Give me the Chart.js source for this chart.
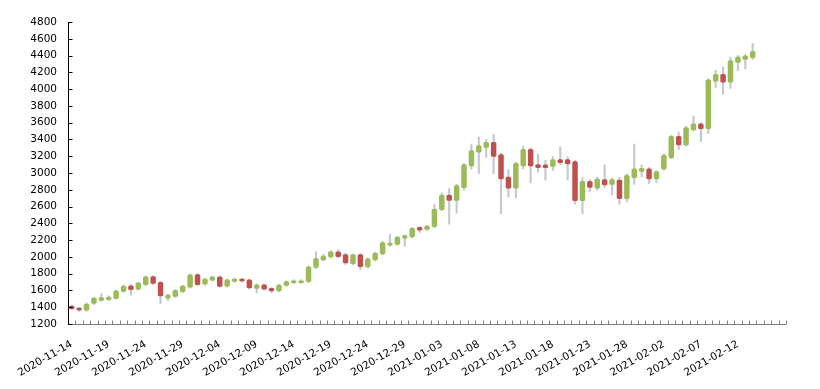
<!DOCTYPE html>
<html>
<head>
<meta charset="utf-8">
<script src="https://cdn.jsdelivr.net/npm/chart.js@4.4.1/dist/chart.umd.min.js"></script>
<style>
  html, body { margin: 0; padding: 0; background: #fff; }
  #wrap { width: 820px; height: 389px; }
</style>
</head>
<body>
<div id="wrap"><canvas id="chart" width="820" height="389"></canvas></div>
<script>
// giorni dal 2020-11-14, l'asse continua qualche giorno dopo l'ultima candela
const dates = [];
for (let d = new Date(Date.UTC(2020, 10, 14)); d <= new Date(Date.UTC(2021, 1, 18)); d.setUTCDate(d.getUTCDate() + 1)) {
  dates.push(d.toISOString().slice(0, 10));
}

const open = [
  1418, 1395, 1360, 1440, 1478, 1485, 1500, 1585, 1660, 1610,
  1665, 1768, 1700, 1505, 1525, 1580, 1635, 1792, 1670, 1720,
  1765, 1648, 1705, 1740, 1730, 1620, 1670, 1630, 1590, 1655,
  1690, 1690, 1700, 1870, 1960, 1995, 2065, 2030, 1915, 2030,
  1880, 1960, 2030, 2135, 2145, 2218, 2235, 2355, 2325, 2355,
  2560, 2740, 2670, 2820, 3080, 3245, 3300, 3370, 3225, 2955,
  2815, 3080, 3285, 3105, 3100, 3075, 3165, 3165, 3140, 2665,
  2905, 2815, 2925, 2860, 2920, 2690, 2940, 3015, 3055, 2925,
  3045, 3180, 3440, 3330, 3510, 3590, 3525, 4090, 4180, 4080,
  4315, 4350, 4370
];
const close = [
  1378, 1360, 1440, 1512, 1518, 1525, 1598, 1655, 1605, 1695,
  1765, 1680, 1530, 1550, 1605, 1655, 1790, 1665, 1740, 1765,
  1645, 1730, 1740, 1710, 1625, 1670, 1612, 1590, 1668, 1710,
  1720, 1720, 1885, 1985, 2015, 2065, 2000, 1925, 2030, 1880,
  1980, 2050, 2175, 2170, 2240, 2258, 2345, 2315, 2370, 2575,
  2740, 2670, 2855, 3105, 3270, 3330, 3370, 3195, 2925, 2815,
  3120, 3285, 3080, 3060, 3060, 3165, 3120, 3105, 2665, 2905,
  2825, 2930, 2855, 2925, 2690, 2975, 3055, 3060, 2925, 3020,
  3215, 3440, 3330, 3545, 3590, 3525, 4115, 4180, 4080, 4345,
  4385, 4400, 4455
];
const high = [
  1425, 1400, 1450, 1520, 1560, 1535, 1605, 1665, 1670, 1700,
  1772, 1775, 1710, 1560, 1612, 1662, 1798, 1800, 1748, 1772,
  1772, 1735, 1748, 1745, 1735, 1678, 1678, 1635, 1675, 1715,
  1728, 1728, 1890, 2060, 2030, 2075, 2083, 2045, 2035, 2040,
  1990, 2058, 2182, 2270, 2245, 2265, 2352, 2360, 2378, 2625,
  2765, 2815, 2865, 3115, 3345, 3430, 3400, 3460, 3235, 3040,
  3130, 3320, 3300, 3225, 3150, 3195, 3310, 3195, 3150, 2945,
  2920, 2950, 3095, 2940, 2950, 2990, 3345, 3095, 3065, 3030,
  3230, 3450, 3490, 3555, 3680, 3600, 4125, 4225, 4265, 4380,
  4400, 4415, 4545
];
const low = [
  1370, 1352, 1350, 1432, 1470, 1478, 1492, 1578, 1545, 1602,
  1658, 1672, 1440, 1480, 1518, 1572, 1628, 1658, 1662, 1712,
  1640, 1640, 1698, 1700, 1618, 1570, 1605, 1575, 1582, 1648,
  1682, 1682, 1692, 1860, 1950, 1985, 1990, 1910, 1905, 1850,
  1865, 1952, 2022, 2125, 2138, 2125, 2228, 2290, 2318, 2345,
  2550, 2390, 2520, 2795, 3045, 2995, 3185, 2990, 2515, 2715,
  2700, 3050, 2880, 3010, 2915, 3030, 3100, 2915, 2630, 2515,
  2775, 2795, 2830, 2735, 2630, 2655, 2865, 2955, 2875, 2885,
  3030, 3170, 3280, 3320, 3500, 3375, 3470, 4020, 3940, 4010,
  4220, 4240, 4355
];

const green = "#9bbb59";
const red = "#c0504d";

// assi e tacche interne (stile Excel)
const axisLines = {
  id: "axisLines",
  afterDatasetsDraw(chart) {
    const { ctx, chartArea: a, scales: { x, y } } = chart;
    ctx.save();
    ctx.lineWidth = 1;

    const yb = Math.round(a.bottom) + 0.5;
    const step = x.getPixelForValue(1) - x.getPixelForValue(0);
    ctx.strokeStyle = "#808080";
    ctx.beginPath();
    ctx.moveTo(a.left, yb);
    ctx.lineTo(a.right, yb);
    for (let i = 0; i <= dates.length; i++) {
      const px = Math.round(x.getPixelForValue(i) - step / 2) + 0.5;
      ctx.moveTo(px, yb);
      ctx.lineTo(px, yb - 4);
    }
    ctx.stroke();

    const xl = Math.round(a.left) + 0.5;
    ctx.strokeStyle = "#000";
    ctx.beginPath();
    ctx.moveTo(xl, a.top);
    ctx.lineTo(xl, yb);
    y.ticks.forEach((t) => {
      const py = Math.round(y.getPixelForValue(t.value)) + 0.5;
      ctx.moveTo(xl, py);
      ctx.lineTo(xl + 4, py);
    });
    ctx.stroke();
    ctx.restore();
  },
};

Chart.defaults.font.family = "'DejaVu Sans', Verdana, sans-serif";
Chart.defaults.font.size = 10.5;
Chart.defaults.color = "#000";

new Chart(document.getElementById("chart"), {
  type: "bar",
  data: {
    labels: dates,
    datasets: [
      {
        label: "body",
        data: open.map((o, i) => [o, close[i]]),
        backgroundColor: (c) => (close[c.dataIndex] >= open[c.dataIndex] ? green : red),
        barPercentage: 0.74,
        categoryPercentage: 1,
        borderRadius: 1.5,
        borderSkipped: false,
        grouped: false,
        order: 1,
      },
      {
        label: "wick",
        data: low.map((l, i) => [l, high[i]]),
        backgroundColor: "#c4c9d1",
        barThickness: 1.5,
        grouped: false,
        order: 2,
      },
    ],
  },
  options: {
    responsive: false,
    animation: false,
    layout: { padding: { top: 22, right: 34, left: 0, bottom: 0 } },
    plugins: {
      legend: { display: false },
      tooltip: { enabled: false },
    },
    scales: {
      x: {
        offset: true,
        grid: { display: false, drawTicks: false },
        border: { display: false },
        ticks: {
          autoSkip: false,
          minRotation: 30,
          maxRotation: 30,
          padding: 14,
          callback: function (v, i) {
            return i % 5 === 0 && i <= 90 ? this.getLabelForValue(v) : null;
          },
        },
        afterFit: (s) => { s.height = 65; },
      },
      y: {
        min: 1200,
        max: 4800,
        grid: { display: false, drawTicks: false },
        border: { display: false },
        ticks: { stepSize: 200, padding: 11, callback: (v) => String(v) },
        afterFit: (s) => { s.width = 68; },
      },
    },
  },
  plugins: [axisLines],
});
</script>
</body>
</html>
